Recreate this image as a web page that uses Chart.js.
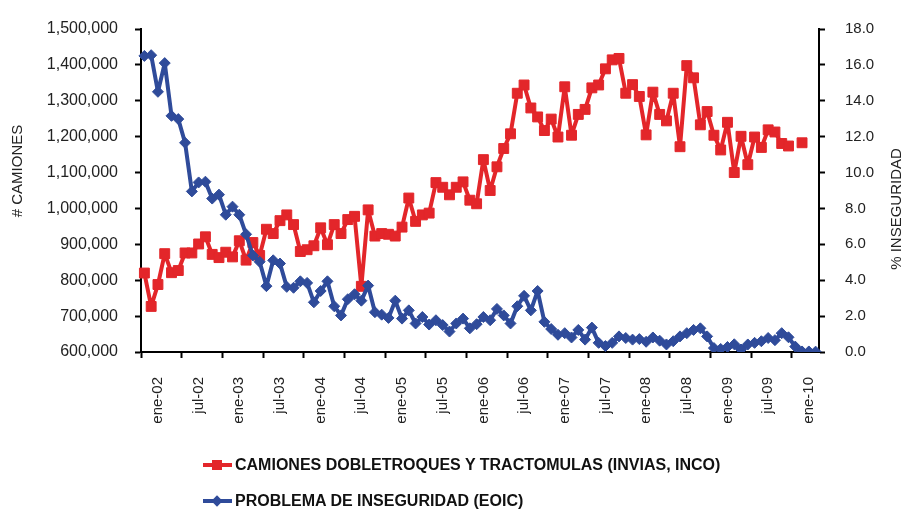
<!DOCTYPE html>
<html><head><meta charset="utf-8">
<script src="https://cdn.jsdelivr.net/npm/chart.js@4.4.1/dist/chart.umd.min.js"></script>
<style>
html,body{margin:0;padding:0;background:#fff;}
#wrap{position:relative;width:902px;height:510px;overflow:hidden;}
#c{position:absolute;left:0;top:0;}
.leg{position:absolute;left:203px;height:18px;line-height:18px;font:bold 16px "Liberation Sans",Arial,Helvetica,sans-serif;color:#111;white-space:nowrap;}
.mk{position:absolute;left:0;top:0;width:29px;height:18px;}
.mk .ln{position:absolute;left:0;width:29px;top:7px;height:4px;}
.mk .sq{position:absolute;left:9px;top:4px;width:10px;height:10px;}
.mk .dm{position:absolute;left:10px;top:5px;width:8px;height:8px;transform:rotate(45deg);}
.leg span.t{position:absolute;left:32px;top:0;}
</style>
</head><body>
<div id="wrap">
<canvas id="c" width="902" height="510"></canvas>
<div class="leg" style="top:456px;"><div class="mk"><div class="ln" style="background:#E3262A"></div><div class="sq" style="background:#E3262A"></div></div><span class="t">CAMIONES DOBLETROQUES Y TRACTOMULAS (INVIAS, INCO)</span></div>
<div class="leg" style="top:492px;"><div class="mk"><div class="ln" style="background:#2F4B9A"></div><div class="dm" style="background:#2F4B9A"></div></div><span class="t">PROBLEMA DE INSEGURIDAD (EOIC)</span></div>
</div>
<script>
const categories = [
 'nov-01','dic-01',
 'ene-02','feb-02','mar-02','abr-02','may-02','jun-02','jul-02','ago-02','sep-02','oct-02','nov-02','dic-02',
 'ene-03','feb-03','mar-03','abr-03','may-03','jun-03','jul-03','ago-03','sep-03','oct-03','nov-03','dic-03',
 'ene-04','feb-04','mar-04','abr-04','may-04','jun-04','jul-04','ago-04','sep-04','oct-04','nov-04','dic-04',
 'ene-05','feb-05','mar-05','abr-05','may-05','jun-05','jul-05','ago-05','sep-05','oct-05','nov-05','dic-05',
 'ene-06','feb-06','mar-06','abr-06','may-06','jun-06','jul-06','ago-06','sep-06','oct-06','nov-06','dic-06',
 'ene-07','feb-07','mar-07','abr-07','may-07','jun-07','jul-07','ago-07','sep-07','oct-07','nov-07','dic-07',
 'ene-08','feb-08','mar-08','abr-08','may-08','jun-08','jul-08','ago-08','sep-08','oct-08','nov-08','dic-08',
 'ene-09','feb-09','mar-09','abr-09','may-09','jun-09','jul-09','ago-09','sep-09','oct-09','nov-09','dic-09',
 'ene-10','feb-10'
];
const labeledMonths = ['ene','jul'];

const camiones = [
 820000,727000,788000,874000,821000,827000,876000,876000,901000,921000,
 872000,863000,878000,865000,910000,856000,905000,869000,942000,930000,
 966000,982000,955000,880000,885000,896000,946000,899000,955000,930000,
 969000,978000,783000,996000,923000,930000,928000,923000,948000,1029000,
 964000,982000,987000,1072000,1059000,1038000,1059000,1074000,1023000,1013000,
 1136000,1050000,1116000,1167000,1208000,1321000,1344000,1280000,1255000,1217000,
 1249000,1199000,1339000,1204000,1262000,1276000,1336000,1344000,1389000,1414000,
 1418000,1321000,1345000,1312000,1205000,1324000,1262000,1244000,1321000,1172000,
 1398000,1364000,1233000,1270000,1204000,1163000,1240000,1100000,1201000,1122000,
 1199000,1170000,1219000,1213000,1181000,1174000,null,1183000,null,null
];
const inseguridad = [
 16.5,16.54,14.5,16.1,13.16,12.98,11.66,8.95,9.45,9.49,
 8.55,8.77,7.65,8.1,7.65,6.56,5.38,5.03,3.67,5.11,
 4.93,3.63,3.58,3.94,3.85,2.77,3.4,3.94,2.55,2.04,
 2.94,3.22,2.86,3.7,2.22,2.08,1.9,2.86,1.86,2.32,
 1.59,1.95,1.53,1.77,1.5,1.14,1.59,1.86,1.32,1.55,
 1.95,1.77,2.4,2.04,1.59,2.55,3.13,2.32,3.4,1.68,
 1.28,0.96,1.05,0.81,1.23,0.69,1.36,0.51,0.33,0.51,
 0.87,0.78,0.69,0.72,0.57,0.81,0.63,0.42,0.6,0.87,
 1.05,1.23,1.32,0.87,0.22,0.17,0.28,0.43,0.14,0.42,
 0.51,0.6,0.78,0.66,1.05,0.82,0.3,0.03,0.03,0.02
];
const leftTitle = '# CAMIONES';
const rightTitle = '% INSEGURIDAD';

const RED = '#E3262A', BLUE = '#2F4B9A';
const FONT = '"Liberation Sans", Arial, Helvetica, sans-serif';
const TXT = '#222';

const axisTitles = {
  id: 'axisTitles',
  afterDraw(chart) {
    const ctx = chart.ctx, a = chart.chartArea;
    ctx.save();
    ctx.fillStyle = TXT;
    ctx.font = '15px ' + FONT;
    ctx.textAlign = 'center';
    ctx.textBaseline = 'middle';
    ctx.save();
    ctx.translate(a.left - 123, a.top + 142);
    ctx.rotate(-Math.PI / 2);
    ctx.fillText(leftTitle, 0, 0);
    ctx.restore();
    ctx.save();
    ctx.translate(a.right + 78, a.top + 180);
    ctx.rotate(-Math.PI / 2);
    ctx.fillText(rightTitle, 0, 0);
    ctx.restore();
    ctx.restore();
  }
};

new Chart(document.getElementById('c'), {
  type: 'line',
  data: {
    labels: categories,
    datasets: [
      {
        label: 'PROBLEMA DE INSEGURIDAD (EOIC)',
        data: inseguridad, yAxisID: 'y1',
        borderColor: BLUE, backgroundColor: BLUE, borderWidth: 4, borderJoinStyle: 'round',
        pointStyle: 'rectRot', pointRadius: 5.5, pointBorderWidth: 1,
        pointBackgroundColor: BLUE, pointBorderColor: BLUE,
        tension: 0, spanGaps: false, order: 1
      },
      {
        label: 'CAMIONES DOBLETROQUES Y TRACTOMULAS (INVIAS, INCO)',
        data: camiones, yAxisID: 'y',
        borderColor: RED, backgroundColor: RED, borderWidth: 4, borderJoinStyle: 'round',
        pointStyle: 'rect', pointRadius: 7, pointBorderWidth: 1,
        pointBackgroundColor: RED, pointBorderColor: RED,
        tension: 0, spanGaps: false, order: 2
      }
    ]
  },
  options: {
    responsive: false, animation: false,
    layout: { padding: { top: 19, left: 0, right: 0, bottom: 0 } },
    plugins: { legend: { display: false }, tooltip: { enabled: false } },
    scales: {
      x: {
        type: 'category', offset: true,
        grid: {
          offset: true, drawOnChartArea: false, drawTicks: true, tickLength: 6, tickWidth: 2,
          tickColor: (c) => (c.index % 6 === 0 ? '#000' : 'rgba(0,0,0,0)')
        },
        border: { display: true, color: '#000', width: 2 },
        ticks: {
          autoSkip: false, minRotation: 90, maxRotation: 90, padding: 19,
          color: TXT, font: { size: 15, family: FONT },
          callback: (v, i) => (labeledMonths.includes(categories[i].slice(0, 3)) ? categories[i] : '')
        },
        afterFit: (s) => { s.height = 158; }
      },
      y: {
        position: 'left', min: 600000, max: 1500000,
        grid: { drawOnChartArea: false, drawTicks: true, tickLength: 6, tickWidth: 2, tickColor: '#000' },
        border: { display: true, color: '#000', width: 2 },
        ticks: {
          stepSize: 100000, padding: 17, color: TXT, font: { size: 16, family: FONT },
          callback: (v) => Number(v).toLocaleString('en-US')
        },
        afterFit: (s) => { s.width = 141; }
      },
      y1: {
        position: 'right', min: 0, max: 18,
        grid: { drawOnChartArea: false, drawTicks: true, tickLength: 6, tickWidth: 2, tickColor: '#000' },
        border: { display: true, color: '#000', width: 2 },
        ticks: {
          stepSize: 2, padding: 20, color: TXT, font: { size: 15, family: FONT },
          callback: (v) => Number(v).toFixed(1)
        },
        afterFit: (s) => { s.width = 83; }
      }
    }
  },
  plugins: [axisTitles]
});
</script>
</body></html>
